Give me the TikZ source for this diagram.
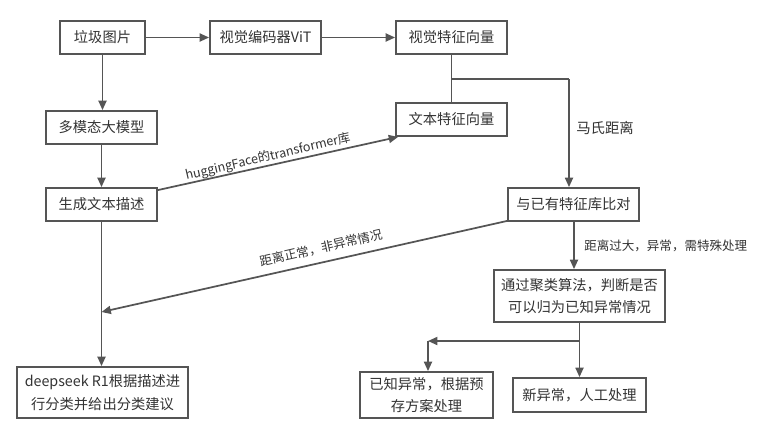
\documentclass[tikz,border=0pt]{standalone}
\usepackage{fontspec}
\setmainfont{Noto Sans CJK SC}
\usetikzlibrary{arrows.meta,calc}
\definecolor{edge}{HTML}{555555}
\definecolor{ink}{HTML}{333333}
\tikzset{
  box/.style={draw=edge, line width=1.4pt, fill=white, text=ink, inner sep=0pt,
    align=center, font=\fontsize{10.7pt}{17pt}\selectfont},
  wire/.style={draw=edge, line width=1.3pt},
  arr/.style={wire, -{Triangle[length=7pt,width=6pt]}},
  lab/.style={text=ink, inner sep=0pt, font=\fontsize{9.4pt}{11pt}\selectfont},
}
\begin{document}
\begin{tikzpicture}[x=0.75pt, y=-0.75pt]
\useasboundingbox (0,0) rectangle (759,429);

% boxes
\node[box, minimum width=63.75pt, minimum height=24.75pt] (trash) at (102.5,37.5) {垃圾图片};
\node[box, minimum width=83.25pt, minimum height=24.75pt] (vit)   at (265.5,37.5) {视觉编码器ViT};
\node[box, minimum width=83.25pt, minimum height=24.75pt] (vfeat) at (451.5,37.5) {视觉特征向量};
\node[box, minimum width=83.25pt, minimum height=24.75pt] (mm)    at (101.5,127.5) {多模态大模型};
\node[box, minimum width=83.25pt, minimum height=24.75pt] (gen)   at (101.5,204.5) {生成文本描述};
\node[box, minimum width=83.25pt, minimum height=24.75pt] (tfeat) at (451.5,119.5) {文本特征向量};
\node[box, minimum width=98.25pt, minimum height=24.75pt] (cmp)   at (573.5,204.5) {与已有特征库比对};
\node[box, minimum width=128.25pt, minimum height=39pt]   (clu)   at (579.5,296) {通过聚类算法，判断是否\\可以归为已知异常情况};
\node[box, minimum width=128.25pt, minimum height=38.25pt] (deep) at (102.5,392.5) {deepseek R1根据描述进\\行分类并给出分类建议};
\node[box, minimum width=99.75pt, minimum height=34.5pt]  (known) at (426.5,395) {已知异常，根据预\\存方案处理};
\node[box, minimum width=99.75pt, minimum height=25.5pt]  (new)   at (579.5,395) {新异常，人工处理};

% top row
\draw[arr] (trash.east) -- (vit.west);
\draw[arr] (vit.east) -- (vfeat.west);

% left column
\draw[arr] (trash.south) -- (trash.south |- mm.north);
\draw[arr] (mm.south) -- (gen.north);

% both feature vectors joined, then compared
\coordinate (j) at (vfeat.south |- 0,79);
\coordinate (k) at (569,79);
\draw[wire] (vfeat.south) -- (vfeat.south |- tfeat.north);
\draw[wire] (j) -- (k);
\draw[arr] (k) -- (k |- cmp.north);
\node[lab, font=\fontsize{10.8pt}{12pt}\selectfont, anchor=west] at (576,128) {马氏距离};

% text description to text feature vector
\coordinate (hs) at ($(gen.north east)+(0,3)$);
\coordinate (he) at ($(tfeat.south west)+(3,0)$);
\draw[arr] (hs) -- (he);
\node[lab, rotate=13.2] at (268,157) {huggingFace的transformer库};

% generated text down to deepseek, joined by the normal-case branch
\coordinate (m) at (gen.south |- 0,312);
\draw[arr] (gen.south) -- (gen.south |- deep.north);
\draw[arr] ($(cmp.south west)+(0,-1)$) -- (m);
\node[lab, rotate=12.8] at (321,248) {距离正常，非异常情况};

% abnormal branch
\draw[arr] (574,221) coordinate (c0) -- (c0 |- clu.north);
\node[lab, anchor=west] at (584,246) {距离过大，异常，需特殊处理};

% clustering result
\coordinate (b) at (clu.south |- 0,341);
\coordinate (c) at (428,341);
\draw[arr] (clu.south) -- (new.north);
\draw[arr] (b) -- (c);
\draw[arr] (c) -- (c |- known.north);
\end{tikzpicture}
\end{document}
